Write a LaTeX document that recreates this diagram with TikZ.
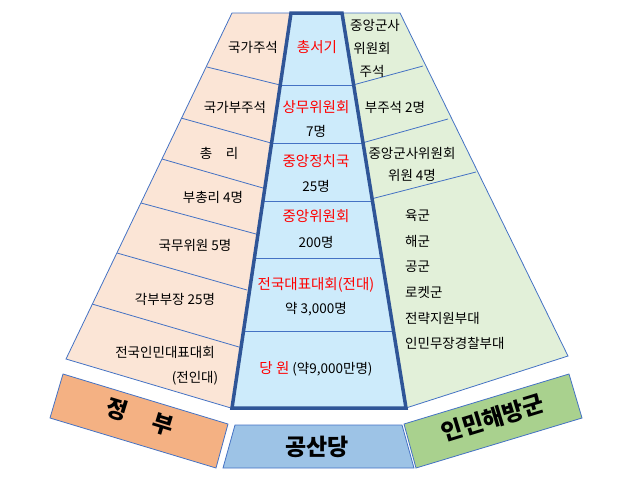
\documentclass[tikz,border=0pt]{standalone}
\usepackage{fontspec}
\setmainfont{Noto Sans CJK KR}
\definecolor{ln}{HTML}{4472C4}
\definecolor{dk}{HTML}{2F5597}
\definecolor{lf}{HTML}{FBE5D6}
\definecolor{rf}{HTML}{E2F0D9}
\definecolor{cf}{HTML}{CDEBFB}
\definecolor{gov}{HTML}{F4B183}
\definecolor{party}{HTML}{9DC3E6}
\definecolor{army}{HTML}{A9D18E}
\begin{document}
\begin{tikzpicture}[x=1pt,y=-1pt,
  t/.style={font=\fontsize{13.5}{15}\selectfont,inner sep=0pt},
  r/.style={t,text=red,font=\fontsize{14.5}{16}\selectfont},
  big/.style={font=\fontsize{23}{26}\selectfont\bfseries,inner sep=0pt},
  div/.style={ln,line width=0.8pt}]
\useasboundingbox (0,0) rectangle (640,482);
% fans
\fill[lf] (232,13) -- (290,13) -- (231,408) -- (66,359) -- cycle;
\draw[ln,line width=0.8pt] (290,13) -- (232,13) -- (66,359) -- (231,408);
\fill[rf] (400,13) -- (342,13) -- (406,408) -- (568,356) -- cycle;
\draw[ln,line width=0.8pt] (342,13) -- (400,13) -- (568,356) -- (406,408);
\fill[cf] (291,13) -- (342,13) -- (406,408) -- (232,408) -- cycle;
% left dividers
\coordinate (l1a) at (207,67); \coordinate (l1b) at (280,85);
\coordinate (l2a) at (181,118); \coordinate (l2b) at (271,143);
\coordinate (l3a) at (162,159); \coordinate (l3b) at (263,188);
\coordinate (l4a) at (141,203); \coordinate (l4b) at (256,234);
\coordinate (l5a) at (117,253); \coordinate (l5b) at (247,290);
\coordinate (l6a) at (92,304); \coordinate (l6b) at (239,347);
\foreach \i in {1,...,6} \draw[div] (l\i a) -- (l\i b);
% right dividers
\coordinate (r1a) at (353,85); \coordinate (r1b) at (423,66);
\coordinate (r2a) at (362,143); \coordinate (r2b) at (448,119);
\coordinate (r3a) at (371,199); \coordinate (r3b) at (476,172);
\foreach \i in {1,2,3} \draw[div] (r\i a) -- (r\i b);
% center dividers
\coordinate (c1a) at (280,85); \coordinate (c1b) at (353,85);
\coordinate (c2a) at (271,143); \coordinate (c2b) at (362,143);
\coordinate (c3a) at (262,201); \coordinate (c3b) at (371,201);
\coordinate (c4a) at (254,258); \coordinate (c4b) at (380,258);
\coordinate (c5a) at (243,331); \coordinate (c5b) at (392,331);
\foreach \i in {1,...,5} \draw[div] (c\i a) -- (c\i b);
\draw[dk,line width=3.5pt,line join=miter] (291,13) -- (342,13) -- (406,408) -- (232,408) -- cycle;
% bottom boxes
\draw[ln,fill=gov,line width=0.8pt] (63,374) -- (228,424) -- (216,468) -- (50,418) -- cycle;
\draw[ln,fill=party,line width=0.8pt] (235,425) -- (402,425) -- (414,468) -- (223,468) -- cycle;
\draw[ln,fill=army,line width=0.8pt] (569,374) -- (582,418) -- (416,468) -- (404,424) -- cycle;
\node[big,rotate=-17] (gov) at (140,417) {정\hspace{1.2em}부};
\node[big] (party) at (317,447) {공산당};
\node[big,rotate=17] (army) at (493,418) {인민해방군};
% left texts
\node[t] (a1) at (253,47) {국가주석};
\node[t] (a2) at (235,107) {국가부주석};
\node[t] (a3) at (219,153) {총\hspace{1em}리};
\node[t] (a4) at (213,197) {부총리 4명};
\node[t] (a5) at (195,245) {국무위원 5명};
\node[t] (a6) at (175,299) {각부부장 25명};
\node[t] (a7) at (165,352) {전국인민대표대회};
\node[t] (a8) at (195,378) {(전인대)};
% center texts
\node[r] (b1) at (317,47) {총서기};
\node[r] (b2) at (316,107) {상무위원회};
\node[t] (b3) at (316,131) {7명};
\node[r] (b4) at (316,161) {중앙정치국};
\node[t] (b5) at (316,186) {25명};
\node[r] (b6) at (316,216) {중앙위원회};
\node[t] (b7) at (316,242) {200명};
\node[r] (b8) at (316,285) {전국대표대회(전대)};
\node[t] (b9) at (316,309) {약 3,000명};
\node[t] (b10) at (316,369) {\textcolor{red}{\fontsize{14.5}{16}\selectfont 당 원} (약9,000만명)};
% right texts
\node[t] (d1) at (375,25) {중앙군사};
\node[t] (d2) at (372,48) {위원회};
\node[t] (d3) at (372,71) {주석};
\node[t] (d4) at (395,107) {부주석 2명};
\node[t] (d5) at (412,153) {중앙군사위원회};
\node[t] (d6) at (412,175) {위원 4명};
\node[t,anchor=west] (e1) at (405,216) {육군};
\node[t,anchor=west] (e2) at (405,241) {해군};
\node[t,anchor=west] (e3) at (405,267) {공군};
\node[t,anchor=west] (e4) at (405,292) {로켓군};
\node[t,anchor=west] (e5) at (405,318) {전략지원부대};
\node[t,anchor=west] (e6) at (405,343) {인민무장경찰부대};
\end{tikzpicture}
\end{document}
